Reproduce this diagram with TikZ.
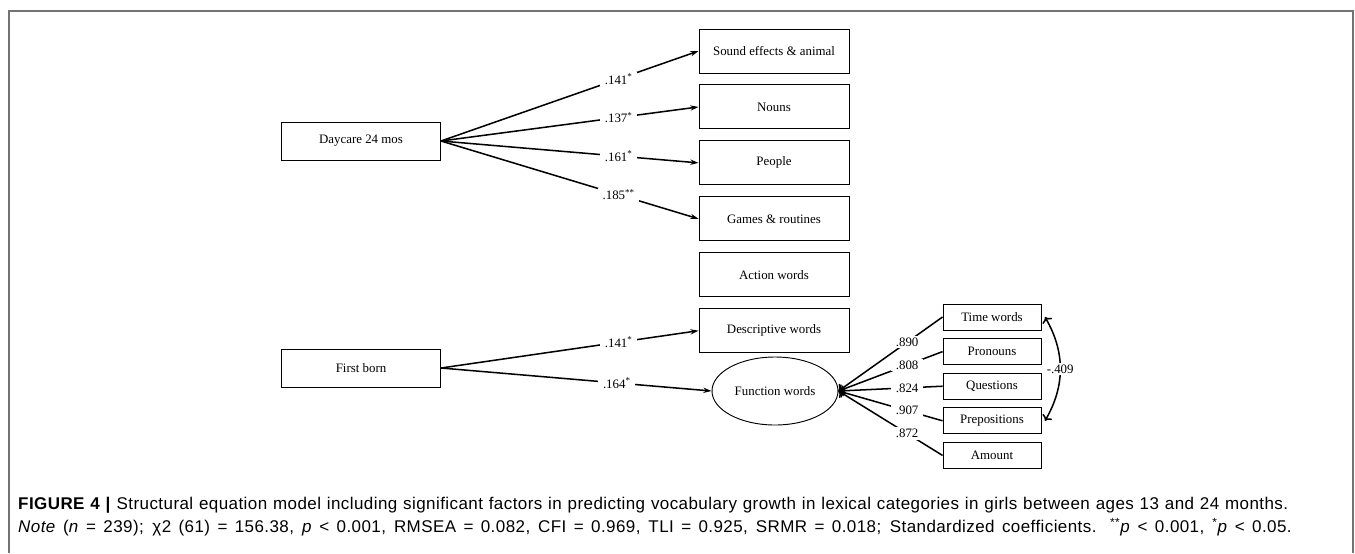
\documentclass[tikz,border=0pt]{standalone}
\usepackage{fontspec}
\setmainfont{Liberation Serif}
\newfontfamily\capfont[LetterSpace=2.5]{Liberation Sans}
\usetikzlibrary{shapes, arrows.meta, positioning}

\begin{document}
\begin{tikzpicture}[
    x=0.03cm, y=-0.03cm,
    every node/.style={font=\fontsize{11}{13}\selectfont},
    predictor/.style={
        rectangle, 
        minimum width=4.77cm, 
        minimum height=1.14cm, 
        text centered, 
        draw=black,
        line width=0.8pt
    },
    outcome/.style={
        rectangle, 
        minimum width=4.5cm, 
        minimum height=1.32cm, 
        text centered, 
        draw=black,
        line width=0.8pt
    },
    latent/.style={
        ellipse, 
        minimum width=3.78cm, 
        minimum height=2.04cm, 
        inner sep=0pt,
        text centered, 
        draw=black,
        line width=0.8pt
    },
    indicator/.style={
        rectangle, 
        minimum width=2.94cm, 
        minimum height=0.78cm, 
        text centered, 
        draw=black,
        line width=0.8pt
    },
    coef/.style={
        fill=white,
        inner xsep=4pt,
        inner ysep=1.5pt
    },
    arrow/.style={
        line width=1.3pt,
        -{Stealth[length=7pt,width=4.5pt]}
    },
    frame/.style={
        draw=black!55,
        line width=1.2pt
    },
    caption/.style={
        anchor=west,
        inner sep=0pt,
        font=\capfont\fontsize{14.5}{17}\selectfont
    }
]

\useasboundingbox (0,0) rectangle (1355,553);

% Frame
\draw [frame] (9,553) -- (9,11) -- (1353,11) -- (1353,553);

% Predictors
\node (day) [predictor] at (361,141) {Daycare 24 mos};
\node (first) [predictor] at (361,368) {First born};

% Lexical categories
\node (sound) [outcome] at (774,51) {Sound effects \& animal};
\node (nouns) [outcome, below=0.33cm of sound] {Nouns};
\node (people) [outcome, below=0.33cm of nouns] {People};
\node (games) [outcome, below=0.33cm of people] {Games \& routines};
\node (action) [outcome, below=0.33cm of games] {Action words};
\node (desc) [outcome, below=0.33cm of action] {Descriptive words};

% Latent factor
\node (func) [latent] at (775,391) {Function words};

% Indicators
\node (time) [indicator] at (992,317) {Time words};
\node (pron) [indicator, below=0.23cm of time] {Pronouns};
\node (quest) [indicator, below=0.23cm of pron] {Questions};
\node (prep) [indicator, below=0.23cm of quest] {Prepositions};
\node (amount) [indicator, below=0.23cm of prep] {Amount};

% Arrows - Daycare
\draw [arrow] (day.east) -- node[coef, pos=0.69] {.141\textsuperscript{*}} (sound.west);
\draw [arrow] (day.east) -- node[coef, pos=0.69] {.137\textsuperscript{*}} (nouns.west);
\draw [arrow] (day.east) -- node[coef, pos=0.69] {.161\textsuperscript{*}} (people.west);
\draw [arrow] (day.east) -- node[coef, pos=0.69] {.185\textsuperscript{**}} (games.west);

% Arrows - First born
\draw [arrow] (first.east) -- node[coef, pos=0.69] {.141\textsuperscript{*}} (desc.west);
\draw [arrow] (first.east) -- node[coef, pos=0.65] {.164\textsuperscript{*}} (func.west);

% Loadings
\draw [arrow, <-] (func.east) -- node[coef, pos=0.66] {.890} (time.west);
\draw [arrow, <-] (func.east) -- node[coef, pos=0.66] {.808} (pron.west);
\draw [arrow, <-] (func.east) -- node[coef, pos=0.66] {.824} (quest.west);
\draw [arrow, <-] (func.east) -- node[coef, pos=0.66] {.907} (prep.west);
\draw [arrow, <-] (func.east) -- node[coef, pos=0.66] {.872} (amount.west);

% Covariance
\draw [arrow, <->] ([xshift=3pt]time.east) to[bend left=30] node[coef, inner xsep=1pt] {-.409} ([xshift=3pt]prep.east);

% Caption
\node (cap1) [caption] at (18,505)
    {\makebox[38.1cm][s]{\textbf{FIGURE 4 |} Structural equation model including significant factors in predicting vocabulary growth in lexical categories in girls between ages 13 and 24 months.}};
\node (cap2) [caption] at (18,527)
    {\makebox[38.2cm][s]{\textit{Note} (\textit{n} = 239); χ2 (61) = 156.38, \textit{p} < 0.001, RMSEA = 0.082, CFI = 0.969, TLI = 0.925, SRMR = 0.018; Standardized coefficients. \textsuperscript{**}\textit{p} < 0.001, \textsuperscript{*}\textit{p} < 0.05.}};

\end{tikzpicture}
\end{document}
